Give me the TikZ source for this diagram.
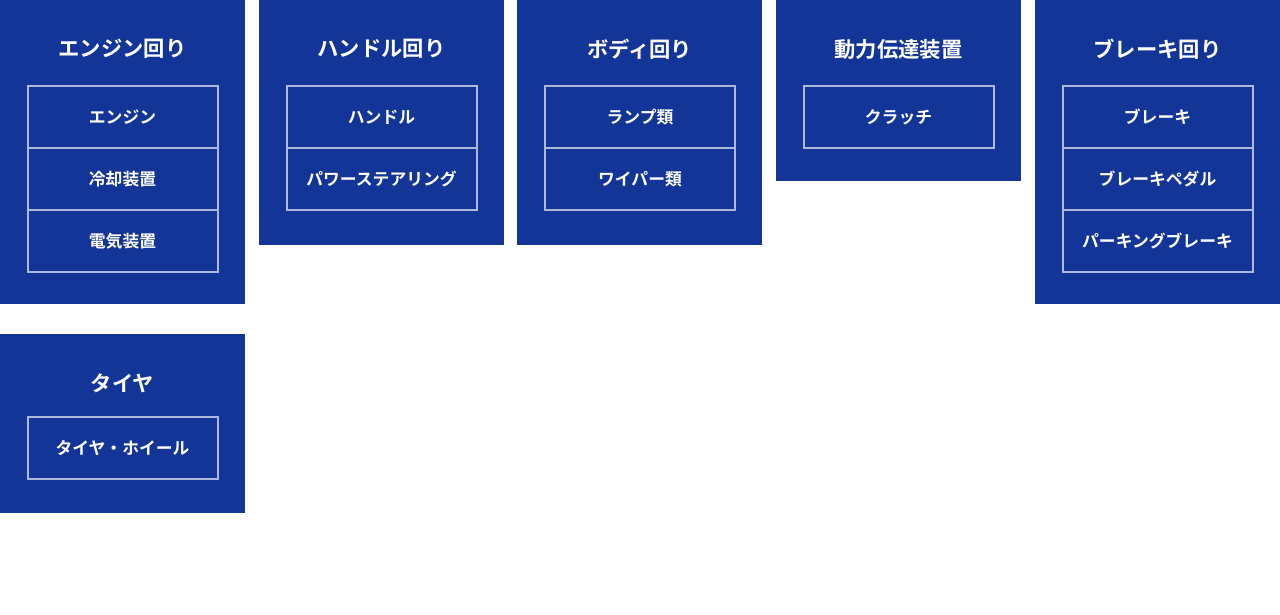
\documentclass[tikz,border=0pt]{standalone}
\usepackage{fontspec}
\setmainfont{Noto Sans CJK JP}[BoldFont={Noto Sans CJK JP Bold}]
\definecolor{panelblue}{HTML}{133597}
\definecolor{cellline}{HTML}{AEB8DA}
\begin{document}
\begin{tikzpicture}[x=1pt,y=-1pt,
  panel/.style={fill=panelblue,draw=none,inner sep=0pt,anchor=north west},
  title/.style={text=white,font=\fontsize{21.3}{24}\selectfont\bfseries,inner sep=0pt},
  cell/.style={draw=cellline,line width=2pt,text=white,minimum width=190pt,minimum height=62pt,inner sep=0pt,font=\fontsize{16.8}{20}\selectfont\bfseries},
  celltext/.style={yshift=-1pt},
]
\useasboundingbox (0,0) rectangle (1280,615);
% panels
\node[panel,minimum width=245pt,minimum height=304pt] (p1) at (0,0) {};
\node[panel,minimum width=245pt,minimum height=245pt] (p2) at (259,0) {};
\node[panel,minimum width=245pt,minimum height=245pt] (p3) at (517,0) {};
\node[panel,minimum width=245pt,minimum height=181pt] (p4) at (776,0) {};
\node[panel,minimum width=245pt,minimum height=304pt] (p5) at (1035,0) {};
\node[panel,minimum width=245pt,minimum height=179pt] (p6) at (0,334) {};
% titles
\node[title] (t1) at (122.5,49) {エンジン回り};
\node[title] (t2) at (381.5,49) {ハンドル回り};
\node[title] (t3) at (639.5,49) {ボディ回り};
\node[title] (t4) at (898.5,49) {動力伝達装置};
\node[title] (t5) at (1157.5,49) {ブレーキ回り};
\node[title] (t6) at (122.5,383) {タイヤ};
% cells
\node[cell] (c11) at (122.5,117) {エンジン};
\node[cell] (c12) at (122.5,179) {冷却装置};
\node[cell] (c13) at (122.5,241) {電気装置};
\node[cell] (c21) at (381.5,117) {ハンドル};
\node[cell] (c22) at (381.5,179) {パワーステアリング};
\node[cell] (c31) at (640,117) {ランプ類};
\node[cell] (c32) at (640,179) {ワイパー類};
\node[cell] (c41) at (898.5,117) {クラッチ};
\node[cell] (c51) at (1157.5,117) {ブレーキ};
\node[cell] (c52) at (1157.5,179) {ブレーキペダル};
\node[cell] (c53) at (1157.5,241) {パーキングブレーキ};
\node[cell] (c61) at (122.5,448) {タイヤ・ホイール};
\end{tikzpicture}
\end{document}
